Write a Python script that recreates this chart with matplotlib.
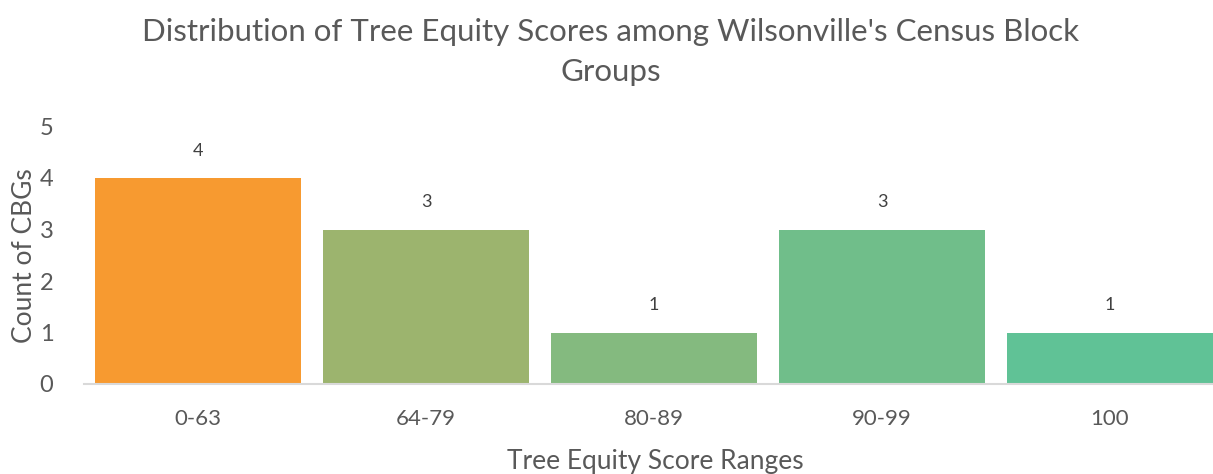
import matplotlib
matplotlib.use("Agg")
import matplotlib.pyplot as plt

categories = ["0-63", "64-79", "80-89", "90-99", "100"]
counts = [4, 3, 1, 3, 1]
colors = ["#F79A30", "#9CB46E", "#84BA7F", "#70BE8A", "#60C296"]

plt.rcParams['font.family'] = ['Lato', 'DejaVu Sans']
W, H = 1213, 474
fig = plt.figure(figsize=(W/100, H/100), dpi=100)
ax = fig.add_axes([84/W, (H-384)/H, 1140/W, 257.5/H])

x = range(len(categories))
bars = ax.bar(x, counts, width=0.9, color=colors)
ax.set_xlim(-0.5, len(categories)-0.5)
ax.set_ylim(0, 5)
ax.set_yticks(range(6))
ax.set_xticks(list(x))
ax.set_xticklabels(categories)
for s in ['top', 'right', 'left']:
    ax.spines[s].set_visible(False)
ax.spines['bottom'].set_color('#D9D9D9')
ax.spines['bottom'].set_linewidth(1.5)
ax.tick_params(axis='both', length=0, colors='#595959')
ax.tick_params(axis='x', labelsize=16, pad=18)
ax.tick_params(axis='y', labelsize=17, pad=22)
for b, v in zip(bars, counts):
    ax.annotate(str(v), (b.get_x()+b.get_width()/2, v), xytext=(0, 14),
                textcoords='offset points', ha='center', va='bottom',
                fontsize=13, color='#404040')

ax.set_ylabel("Count of CBGs", fontsize=19, color='#595959', labelpad=2)
fig.text(655/W, 1-462/H, "Tree Equity Score Ranges", ha='center', va='center',
         fontsize=19, color='#595959')
fig.text(611/W, 1-52/H, "Distribution of Tree Equity Scores among Wilsonville's Census Block\nGroups",
         ha='center', va='center', fontsize=22.5, color='#595959', linespacing=1.55)

fig.savefig("out.png", dpi=100)
